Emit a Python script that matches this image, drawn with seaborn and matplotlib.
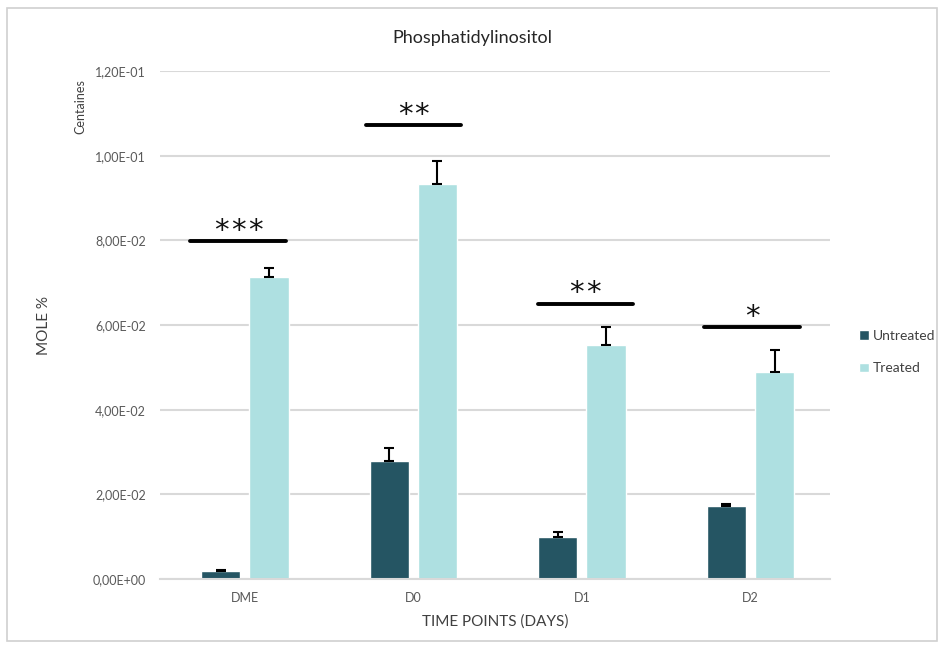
import numpy as np
import pandas as pd
import matplotlib
matplotlib.use('Agg')
import matplotlib.pyplot as plt
from matplotlib.patches import Rectangle
import seaborn as sns

categories = ['DME', 'D0', 'D1', 'D2']
untreated = [0.0019, 0.0279, 0.0099, 0.0172]
untreated_err = [0.0003, 0.0030, 0.0012, 0.0005]
treated = [0.0713, 0.0933, 0.0553, 0.0489]
treated_err = [0.0021, 0.0054, 0.0042, 0.0052]
sig_stars = [3, 2, 2, 1]
sig_heights = [0.0798, 0.1072, 0.0650, 0.0595]
sig_shift = [-0.04, 0.0, 0.02, 0.01]

c_untreated = '#255563'
c_treated = '#aee0e1'

df = pd.DataFrame({
    'time': categories * 2,
    'group': ['Untreated'] * 4 + ['Treated'] * 4,
    'value': untreated + treated,
})

sns.set_theme(style='white')
plt.rcParams['font.family'] = ['Lato', 'DejaVu Sans']

fig = plt.figure(figsize=(9.44, 6.47), dpi=100)
ax = fig.add_axes([0.1695, 0.105, 0.71, 0.785])

sns.barplot(data=df, x='time', y='value', hue='group', order=categories,
            hue_order=['Untreated', 'Treated'],
            palette=[c_untreated, c_treated], width=0.572, gap=0.19,
            errorbar=None, ax=ax, saturation=1)

# upper-only error bars at the bar centres
for cont, vals, errs in zip(ax.containers, [untreated, treated], [untreated_err, treated_err]):
    xs = [p.get_x() + p.get_width() / 2 for p in cont.patches]
    ax.errorbar(xs, vals, yerr=[np.zeros(len(vals)), errs], fmt='none',
                ecolor='black', elinewidth=1.5, capsize=3.5, capthick=1.5, zorder=4)

# significance bars + stars
for i, (n, h, s) in enumerate(zip(sig_stars, sig_heights, sig_shift)):
    c = i + s
    ax.plot([c - 0.283, c + 0.283], [h, h], color='black', lw=2.8, clip_on=False, zorder=5)
    for k in range(n):
        xk = c + (k - (n - 1) / 2) * 0.1
        ax.text(xk, h + 0.0006, '*', ha='center', va='baseline', fontsize=21,
                family='DejaVu Sans', color='#111111')

ax.set_ylim(0, 0.12)
ax.set_yticks(np.arange(0, 0.121, 0.02))
ax.set_yticklabels(['0,00E+00', '2,00E-02', '4,00E-02', '6,00E-02', '8,00E-02',
                    '1,00E-01', '1,20E-01'])
ax.yaxis.grid(True, color='#d9d9d9', lw=1.5)
ax.set_axisbelow(True)
for s in ['top', 'right', 'left']:
    ax.spines[s].set_visible(False)
ax.spines['bottom'].set_color('#d9d9d9')
ax.spines['bottom'].set_linewidth(1.5)
ax.tick_params(axis='both', length=0, labelsize=9, labelcolor='#595959')
ax.tick_params(axis='y', pad=10)
ax.tick_params(axis='x', pad=9)

ax.set_xlabel('TIME POINTS (DAYS)', fontsize=11, color='#404040', labelpad=8)
ax.set_ylabel('MOLE %', fontsize=11, color='#404040', labelpad=0)
ax.yaxis.set_label_coords(-0.163, 0.5)
fig.text(0.5, 0.941, 'Phosphatidylinositol', fontsize=13, color='#262626',
         ha='center', va='center')
fig.text(0.085, 0.835, 'Centaines', rotation=90, fontsize=9, color='#404040',
         ha='center', va='center')

ax.legend(loc='center left', bbox_to_anchor=(1.035, 0.447), borderaxespad=0,
          frameon=False, fontsize=10, handlelength=0.7, handleheight=0.7,
          handletextpad=0.3, labelspacing=1.5, labelcolor='#404040')

fig.patches.append(Rectangle((0.007, 0.01), 0.986, 0.978, transform=fig.transFigure,
                             fill=False, edgecolor='#d0d0d0', lw=1.2))

fig.savefig('out.png', dpi=100)
